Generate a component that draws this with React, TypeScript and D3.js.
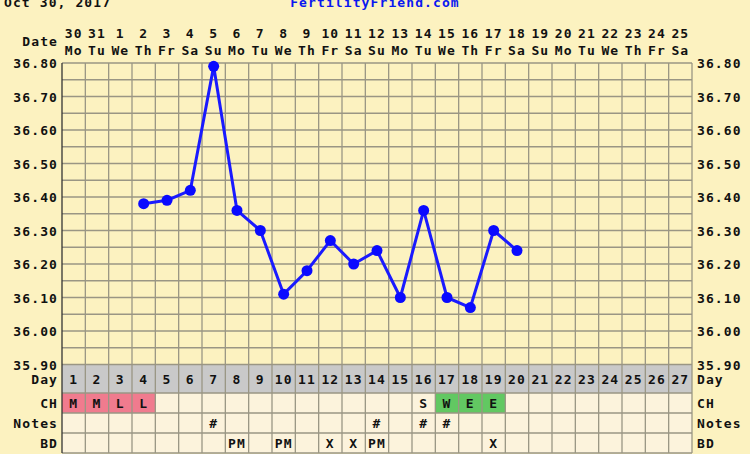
import React from "react";
import * as d3 from "d3";

const cycleDays = d3.range(1, 28);
const dates = ["30","31","1","2","3","4","5","6","7","8","9","10","11","12","13","14","15","16","17","18","19","20","21","22","23","24","25"];
const weekdays = ["Mo","Tu","We","Th","Fr","Sa","Su","Mo","Tu","We","Th","Fr","Sa","Su","Mo","Tu","We","Th","Fr","Sa","Su","Mo","Tu","We","Th","Fr","Sa"];
const tempDays = [4,5,6,7,8,9,10,11,12,13,14,15,16,17,18,19,20];
const temps = [36.38,36.39,36.42,36.79,36.36,36.30,36.11,36.18,36.27,36.20,36.24,36.10,36.36,36.10,36.07,36.30,36.24];
const tickValues = [36.8,36.7,36.6,36.5,36.4,36.3,36.2,36.1,36.0,35.9];
const cmDays = [1,2,3,4,16,17,18,19];
const cmText = ["M","M","L","L","S","W","E","E"];
const cmKind = ["pink","pink","pink","pink","none","green","green","green"];
const noteDays = [7,14,16,17];
const bdDays = [8,10,12,13,14,19];
const bdText = ["PM","PM","X","X","PM","X"];
const rowLabels = ["Day","CH","Notes","BD"];

const W = 750, H = 454;
const L = 62, R = 692, T = 63, B = 364.5;
const rows = [[364.5, 393], [393, 413], [413, 433], [433, 453]];
const FONT = "'DejaVu Sans Mono', monospace";
const BG = "#fcf2c0";
const GRID = "#9a9684";

export default function App() {
  const x = d3.scaleBand<number>().domain(cycleDays).range([L, R]);
  const y = d3.scaleLinear().domain([35.9, 36.8]).range([B, T]);
  const cx = (d: number) => (x(d) as number) + x.bandwidth() / 2;
  const minor = d3.range(0, 19).map((i) => 35.9 + i * 0.05);
  const line = d3.line<number>().x((_, i) => cx(tempDays[i])).y((v) => y(v));
  const txt = { fontFamily: FONT, fontWeight: 700, fontSize: 13, letterSpacing: 1.1, fill: "#111" } as const;

  return (
    <div style={{ position: "absolute", left: 0, top: 0 }}>
      <svg width={W} height={H} style={{ display: "block" }}>
        <rect x={0} y={0} width={W} height={H} fill={BG} />
        <text x={4} y={7} {...txt}>Oct 30, 2017</text>
        <text x={375} y={7} {...txt} fill="#0a18f0" textAnchor="middle">FertilityFriend.com</text>
        <text x={58} y={46} {...txt} textAnchor="end">Date</text>
        {cycleDays.map((d, i) => (
          <g key={"h" + d}>
            <text x={cx(d)} y={38} {...txt} textAnchor="middle">{dates[i]}</text>
            <text x={cx(d)} y={55} {...txt} textAnchor="middle">{weekdays[i]}</text>
          </g>
        ))}
        {/* table rows */}
        <rect x={L} y={rows[0][0]} width={R - L} height={rows[0][1] - rows[0][0]} fill="#c9c9c9" />
        <rect x={L} y={rows[1][0]} width={R - L} height={rows[3][1] - rows[1][0]} fill="#fcf3dc" />
        {cmDays.map((d, i) =>
          cmKind[i] === "none" ? null : (
            <rect key={"cb" + d} x={x(d)} y={rows[1][0]} width={x.bandwidth()} height={rows[1][1] - rows[1][0]}
              fill={cmKind[i] === "pink" ? "#f07b8e" : "#62c862"} />
          )
        )}
        {/* horizontal grid */}
        {minor.map((v, i) => (
          <line key={"g" + i} x1={L} x2={R} y1={y(v)} y2={y(v)} stroke={GRID} strokeWidth={1.3} />
        ))}
        {rows.map((r, i) => (
          <line key={"rl" + i} x1={L} x2={R} y1={r[1]} y2={r[1]} stroke={GRID} strokeWidth={1.3} />
        ))}
        {/* vertical grid */}
        {cycleDays.slice(1).map((d) => (
          <line key={"v" + d} x1={x(d)} x2={x(d)} y1={T} y2={rows[3][1]} stroke={GRID} strokeWidth={1.3} />
        ))}
        <line x1={R} x2={R} y1={T} y2={rows[3][1]} stroke={GRID} strokeWidth={1.3} />
        <line x1={L} x2={L} y1={T} y2={rows[3][1]} stroke="#333" strokeWidth={1.3} />
        {/* y labels */}
        {tickValues.map((v) => (
          <g key={"t" + v}>
            <text x={58} y={y(v) + 5} {...txt} textAnchor="end">{v.toFixed(2)}</text>
            <text x={697} y={y(v) + 5} {...txt}>{v.toFixed(2)}</text>
          </g>
        ))}
        {/* row labels */}
        {rowLabels.map((s, i) => {
          const yy = (rows[i][0] + rows[i][1]) / 2 + 5;
          return (
            <g key={"rlab" + s}>
              <text x={58} y={yy} {...txt} textAnchor="end">{s}</text>
              <text x={697} y={yy} {...txt}>{s}</text>
            </g>
          );
        })}
        {cycleDays.map((d) => (
          <text key={"dn" + d} x={cx(d)} y={(rows[0][0] + rows[0][1]) / 2 + 5} {...txt} textAnchor="middle">{d}</text>
        ))}
        {cmDays.map((d, i) => (
          <text key={"ct" + d} x={cx(d)} y={(rows[1][0] + rows[1][1]) / 2 + 5} {...txt} textAnchor="middle">{cmText[i]}</text>
        ))}
        {noteDays.map((d) => (
          <text key={"nt" + d} x={cx(d)} y={(rows[2][0] + rows[2][1]) / 2 + 5} {...txt} textAnchor="middle">#</text>
        ))}
        {bdDays.map((d, i) => (
          <text key={"bd" + d} x={cx(d)} y={(rows[3][0] + rows[3][1]) / 2 + 5} {...txt} textAnchor="middle">{bdText[i]}</text>
        ))}
        {/* temperature line */}
        <path d={line(temps) || ""} fill="none" stroke="#1a1aff" strokeWidth={3} strokeLinejoin="round" />
        {temps.map((v, i) => (
          <circle key={"p" + i} cx={cx(tempDays[i])} cy={y(v)} r={5.5} fill="#0a0aff" />
        ))}
      </svg>
    </div>
  );
}
